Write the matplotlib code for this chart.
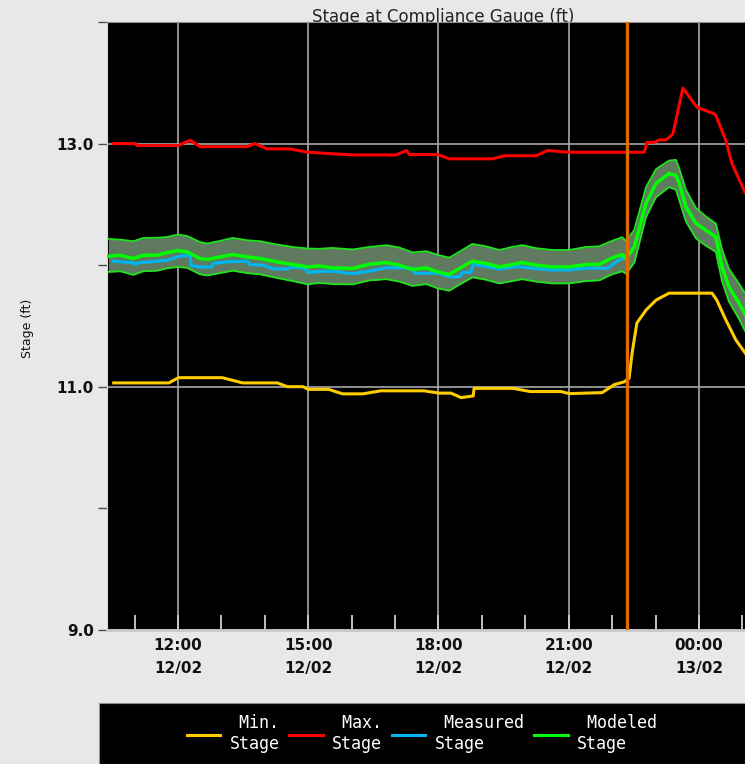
import matplotlib.pyplot as plt
from matplotlib.lines import Line2D
import numpy as np

# hours since 12/02 00:00
max_t = [10.51, 11.01, 11.06, 12.0, 12.28, 12.51, 13.59, 13.77, 14.05, 14.57,
         14.99, 15.49, 16.02, 17.03, 17.26, 17.33, 17.98, 18.25, 19.24, 19.52,
         20.25, 20.51, 21.01, 22.74, 22.80, 22.97, 23.08, 23.24, 23.36, 23.40,
         23.63, 23.95, 24.34, 24.39, 24.62, 24.76, 25.06]
max_v = [13.00, 13.00, 12.984, 12.984, 13.027, 12.975, 12.975, 13.0, 12.957, 12.957,
         12.929, 12.918, 12.907, 12.907, 12.943, 12.91, 12.91, 12.875, 12.875, 12.90,
         12.90, 12.943, 12.929, 12.929, 13.01, 13.01, 13.03, 13.03, 13.066, 13.08,
         13.457, 13.30, 13.246, 13.23, 13.025, 12.836, 12.60]

min_t = [10.52, 11.79, 12.01, 13.02, 13.49, 14.29, 14.52, 14.88, 15.00, 15.47,
         15.79, 16.26, 16.67, 17.66, 18.02, 18.29, 18.52, 18.80, 18.82, 19.72,
         20.11, 20.82, 21.01, 21.77, 22.05, 22.28, 22.39, 22.46, 22.57, 22.78,
         23.01, 23.31, 24.30, 24.41, 24.62, 24.85, 25.06]
min_v = [11.032, 11.032, 11.075, 11.075, 11.032, 11.032, 11.001, 11.001, 10.979, 10.979,
         10.942, 10.942, 10.967, 10.967, 10.948, 10.948, 10.911, 10.925, 10.987, 10.987,
         10.961, 10.961, 10.944, 10.952, 11.018, 11.041, 11.071, 11.279, 11.525, 11.631,
         11.713, 11.770, 11.770, 11.713, 11.549, 11.385, 11.28]

meas_t = [10.51, 10.97, 11.0, 11.1, 11.75, 12.0, 12.2, 12.28, 12.3, 12.5,
          12.78, 12.8, 13.1, 13.6, 13.65, 13.95, 14.2, 14.55, 14.6, 14.9,
          15.0, 15.3, 15.6, 16.0, 16.4, 16.8, 17.4, 17.45, 18.0, 18.15,
          18.28, 18.5, 18.55, 18.75, 18.8, 19.1, 19.4, 19.78, 20.15, 20.6,
          21.0, 21.4, 21.9, 22.1, 22.23]
meas_v = [12.033, 12.02, 12.006, 12.02, 12.04, 12.07, 12.08, 12.08, 11.998, 11.986,
          11.986, 12.014, 12.027, 12.033, 12.006, 12.0, 11.97, 11.97, 11.986, 11.975,
          11.94, 11.95, 11.95, 11.93, 11.95, 11.98, 11.975, 11.934, 11.934, 11.916,
          11.902, 11.908, 11.941, 11.941, 12.006, 11.99, 11.967, 11.99, 11.975, 11.961,
          11.961, 11.975, 11.975, 12.03, 12.055]

mod_t = [10.40, 10.67, 10.97, 11.20, 11.52, 11.75, 12.00, 12.21, 12.51, 12.67,
         12.97, 13.26, 13.59, 13.89, 14.28, 14.64, 14.99, 15.26, 15.56, 16.02,
         16.41, 16.80, 17.10, 17.40, 17.72, 17.98, 18.25, 18.48, 18.78, 19.10,
         19.40, 19.70, 19.93, 20.25, 20.62, 21.01, 21.40, 21.70, 22.00, 22.23,
         22.32, 22.51, 22.78, 23.01, 23.31, 23.47, 23.54, 23.70, 23.93, 24.16,
         24.39, 24.53, 24.69, 24.92, 25.06]
mod_v = [12.074, 12.082, 12.055, 12.082, 12.082, 12.104, 12.120, 12.109, 12.055, 12.047,
         12.068, 12.088, 12.068, 12.055, 12.027, 12.006, 11.986, 11.994, 11.978, 11.973,
         12.008, 12.022, 12.000, 11.965, 11.978, 11.945, 11.924, 11.973, 12.033, 12.014,
         11.986, 12.006, 12.022, 12.000, 11.986, 11.986, 12.006, 12.006, 12.060, 12.088,
         12.057, 12.150, 12.508, 12.672, 12.754, 12.738, 12.68, 12.478, 12.344, 12.287,
         12.232, 11.986, 11.822, 11.689, 11.60]
band_hi = [12.216, 12.21, 12.197, 12.224, 12.226, 12.232, 12.252, 12.240, 12.190, 12.178,
           12.200, 12.224, 12.205, 12.197, 12.170, 12.150, 12.137, 12.135, 12.142, 12.129,
           12.150, 12.164, 12.145, 12.105, 12.115, 12.085, 12.062, 12.110, 12.175, 12.155,
           12.125, 12.150, 12.165, 12.140, 12.125, 12.125, 12.150, 12.155, 12.200, 12.230,
           12.200, 12.290, 12.642, 12.790, 12.861, 12.866, 12.800, 12.620, 12.470, 12.400,
           12.342, 12.130, 11.970, 11.850, 11.77]
band_lo = [11.945, 11.950, 11.920, 11.950, 11.955, 11.975, 11.986, 11.978, 11.925, 11.915,
           11.935, 11.955, 11.935, 11.925, 11.895, 11.870, 11.842, 11.855, 11.845, 11.842,
           11.875, 11.885, 11.865, 11.830, 11.845, 11.810, 11.790, 11.840, 11.900, 11.880,
           11.850, 11.870, 11.885, 11.865, 11.850, 11.850, 11.870, 11.875, 11.925, 11.950,
           11.930, 12.020, 12.396, 12.560, 12.642, 12.620, 12.540, 12.360, 12.220, 12.160,
           12.109, 11.870, 11.700, 11.560, 11.46]

now_t = 22.34

xticks = [12, 15, 18, 21, 24]
xtick_labels = ['12:00\n12/02', '15:00\n12/02', '18:00\n12/02', '21:00\n12/02', '00:00\n13/02']
yticks = [9, 11, 13]
ytick_labels = ['9.0', '11.0', '13.0']

legend_labels = [' Min.\nStage', ' Max.\nStage', ' Measured\nStage', ' Modeled\nStage']

c_min = '#ffcc00'
c_max = '#ff0000'
c_meas = '#00b4f0'
c_mod = '#00ff00'

fig = plt.figure(figsize=(7.45, 7.64), dpi=100, facecolor='#e8e8e8')
ax = fig.add_axes([107/745, 1 - 630/764, 638/745, 608/764], facecolor='black')

# uncertainty band
ax.fill_between(mod_t, band_lo, band_hi, color='#5f7a5f', lw=0, zorder=2)
ax.plot(mod_t, band_hi, color='#1ee61e', lw=1.3, zorder=3)
ax.plot(mod_t, band_lo, color='#1ee61e', lw=1.3, zorder=3)

ax.plot(min_t, min_v, color=c_min, lw=2.2, zorder=4)
ax.plot(max_t, max_v, color=c_max, lw=2.2, zorder=4)
ax.plot(meas_t, meas_v, color=c_meas, lw=2.3, zorder=4)
ax.plot(mod_t, mod_v, color=c_mod, lw=2.5, zorder=5)

ax.axvline(now_t, color='#e06a00', lw=2.4, zorder=6)

ax.set_xlim(10.365, 25.06)
ax.set_ylim(9, 14)

ax.set_xticks(xticks)
ax.set_xticklabels(xtick_labels)
ax.set_xticks(np.arange(11, 26), minor=True)
ax.set_yticks(yticks)
ax.set_yticklabels(ytick_labels)
ax.set_yticks([10, 12, 14], minor=True)

ax.tick_params(axis='x', which='both', direction='in', length=11, width=1.3,
               color='#d0d0d0', pad=6, labelsize=11, labelcolor='#111111')
ax.tick_params(axis='y', which='both', direction='out', length=6.5, width=1,
               color='#505050', pad=3, labelsize=11, labelcolor='#111111')
for t in ax.get_xticklabels():
    t.set_fontweight('bold')
    t.set_linespacing(1.65)
for t in ax.get_yticklabels():
    t.set_fontweight('bold')

ax.grid(True, which='major', color='#a8a8a8', lw=1.2, zorder=1)
ax.set_axisbelow(True)

ax.spines['right'].set_visible(False)
ax.spines['top'].set_color('#909090')
ax.spines['left'].set_color('#d8d8d8')
ax.spines['bottom'].set_color('#c8c8c8')
ax.spines['bottom'].set_linewidth(2)

fig.text(443/745, 1 - 22/764, 'Stage at Compliance Gauge (ft)', ha='center',
         va='baseline', fontsize=12, color='#222222', zorder=-1)
fig.text(28/745, 1 - 328/764, 'Stage (ft)', rotation=90, ha='center', va='center',
         fontsize=9, color='#111111')

# legend box
lax = fig.add_axes([99/745, 0, 1 - 99/745, 61/764], facecolor='black')
lax.set_xticks([])
lax.set_yticks([])
for s in lax.spines.values():
    s.set_color('#909090')
handles = [Line2D([], [], color=c, lw=2.2) for c in [c_min, c_max, c_meas, c_mod]]
leg = lax.legend(handles, legend_labels, loc='center', ncol=4, frameon=False,
                 prop={'family': 'DejaVu Sans Mono', 'size': 12},
                 labelcolor='white', handlelength=2.0, handletextpad=0.55,
                 columnspacing=0.6)
for t in leg.get_texts():
    t.set_multialignment('left')

plt.savefig('out.png', dpi=100, facecolor=fig.get_facecolor())
